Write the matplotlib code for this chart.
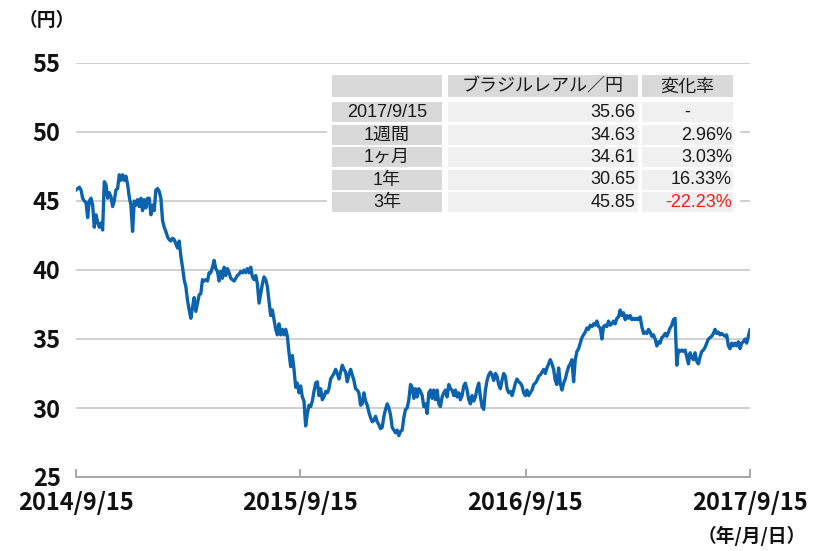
import numpy as np
import pandas as pd
import matplotlib
matplotlib.use("Agg")
import matplotlib.pyplot as plt
import matplotlib.dates as mdates
from matplotlib.patches import Rectangle

plt.rcParams['font.family'] = ['Noto Sans CJK JP', 'DejaVu Sans']

# ---------------- data ----------------
start_date = "2014-09-15"
end_date = "2017-09-15"

brl_jpy = [
    45.8, 45.9, 46.0, 45.8, 45.2, 45.0, 44.9, 43.8, 45.0, 45.2, 44.7, 43.1, 44.0, 43.5, 43.1, 43.4, 42.9,
    46.4, 46.2, 45.2, 45.6, 45.3, 44.6, 45.0, 45.8, 45.9, 46.9, 46.5, 46.9, 46.5, 46.8, 46.2, 45.3, 44.7,
    42.8, 45.0, 44.7, 45.1, 44.6, 45.2, 44.3, 45.1, 44.5, 45.2, 45.2, 44.0, 44.7, 44.3, 45.8, 45.9, 45.7,
    45.2, 43.6, 43.1, 42.8, 42.4, 42.2, 42.1, 42.3, 42.2, 41.9, 41.6, 42.1, 41.0, 40.2, 39.3, 38.8, 37.8,
    37.1, 36.5, 37.3, 38.0, 37.0, 37.6, 38.2, 38.3, 39.3, 39.2, 39.3, 39.2, 39.8, 39.8, 40.2, 40.7, 40.1,
    39.9, 39.2, 39.9, 39.4, 40.2, 39.6, 40.1, 39.8, 39.4, 39.3, 39.2, 39.4, 39.6, 39.7, 39.9, 39.8, 40.0,
    39.8, 40.1, 39.8, 40.2, 39.5, 39.3, 39.6, 39.0, 37.6, 38.3, 39.0, 39.5, 39.3, 38.8, 37.7, 36.7, 37.1,
    36.4, 35.7, 35.3, 36.1, 35.3, 35.7, 35.3, 35.7, 35.2, 34.0, 33.0, 33.8, 32.8, 31.5, 31.8, 31.1, 31.6,
    30.8, 30.5, 28.7, 29.6, 30.2, 30.1, 30.5, 31.2, 31.8, 31.9, 30.9, 31.4, 30.6, 30.8, 31.2, 31.1, 31.4,
    32.1, 32.3, 32.5, 32.8, 32.5, 32.1, 32.6, 33.1, 32.8, 32.6, 31.9, 32.4, 32.8, 32.4, 32.0, 31.4, 31.3,
    31.1, 30.2, 30.3, 31.1, 30.5, 30.2, 29.7, 29.3, 29.0, 29.1, 29.4, 29.0, 28.8, 28.5, 28.6, 29.4, 29.9,
    30.3, 30.0, 29.5, 28.6, 28.4, 28.2, 28.4, 28.0, 28.3, 28.4, 29.3, 29.9, 30.0, 30.6, 31.7, 31.5, 30.7,
    31.4, 30.8, 31.4, 31.2, 30.9, 30.1, 30.3, 29.6, 31.1, 31.3, 30.7, 31.3, 30.6, 31.3, 30.3, 30.1, 30.8,
    31.1, 31.3, 30.8, 31.7, 31.4, 31.3, 30.9, 31.3, 30.8, 31.1, 30.6, 30.9, 31.6, 31.8, 31.3, 30.6, 30.3,
    30.9, 30.5, 30.8, 31.4, 31.8, 30.8, 30.1, 29.9, 31.3, 32.0, 32.4, 32.6, 32.4, 32.0, 32.5, 32.3, 31.7,
    31.4, 32.0, 32.5, 32.3, 31.4, 31.1, 31.2, 30.9, 31.3, 31.8, 32.1, 31.9, 31.8, 31.6, 31.1, 30.9, 31.3,
    30.9, 31.1, 31.3, 31.7, 31.8, 32.0, 32.3, 32.4, 32.6, 32.8, 32.5, 32.9, 33.2, 33.5, 33.2, 32.8, 32.0,
    31.7, 32.9, 31.8, 31.3, 31.8, 32.1, 32.6, 33.0, 33.2, 33.5, 31.9, 33.5, 34.1, 34.3, 34.7, 35.1, 35.3,
    35.5, 35.8, 35.7, 36.0, 35.9, 36.1, 36.0, 36.3, 35.9, 35.8, 35.0, 35.9, 36.0, 35.9, 36.3, 36.0, 36.1,
    36.3, 36.1, 36.5, 36.6, 37.1, 36.7, 36.9, 36.4, 36.7, 36.5, 36.7, 36.4, 36.5, 36.4, 36.5, 36.4, 36.6,
    35.9, 35.4, 35.5, 35.4, 35.7, 35.5, 35.2, 35.3, 35.0, 34.5, 34.8, 34.7, 35.1, 35.2, 35.4, 35.2, 35.5,
    35.8, 36.0, 36.4, 36.5, 33.1, 34.2, 34.1, 34.2, 34.1, 34.2, 33.7, 33.2, 34.0, 33.7, 33.5, 34.0, 33.4,
    33.2, 33.7, 34.1, 34.2, 34.4, 34.7, 35.0, 35.1, 35.2, 35.4, 35.7, 35.4, 35.5, 35.3, 35.4, 35.3, 35.2,
    35.3, 34.5, 34.3, 34.7, 34.5, 34.7, 34.5, 34.8, 34.3, 34.7, 34.8, 35.0, 34.7, 35.2, 35.66,
]

y_ticks = [25, 30, 35, 40, 45, 50, 55]
x_tick_dates = ["2014-09-15", "2015-09-15", "2016-09-15", "2017-09-15"]
x_tick_labels = ["2014/9/15", "2015/9/15", "2016/9/15", "2017/9/15"]

table_header = ["", "ブラジルレアル／円", "変化率"]
table_periods = ["2017/9/15", "1週間", "1ヶ月", "1年", "3年"]
table_rates = ["35.66", "34.63", "34.61", "30.65", "45.85"]
table_changes = ["-", "2.96%", "3.03%", "16.33%", "-22.23%"]

# ---------------- figure ----------------
W, H = 830, 551
fig = plt.figure(figsize=(W / 100, H / 100), dpi=100)
ax_l, ax_r, ax_t, ax_b = 76, 750, 63, 477
ax = fig.add_axes([ax_l / W, 1 - ax_b / H, (ax_r - ax_l) / W, (ax_b - ax_t) / H])

dates = pd.date_range(start_date, end_date, periods=len(brl_jpy))
ax.plot(dates, brl_jpy, color="#0b63ae", lw=2.4, solid_joinstyle="round", zorder=3)

ax.set_xlim(pd.Timestamp(start_date), pd.Timestamp(end_date))
ax.set_ylim(25, 55)
ax.set_yticks(y_ticks)
ax.set_yticklabels([str(v) for v in y_ticks])
ax.set_xticks([pd.Timestamp(d) for d in x_tick_dates])
ax.set_xticklabels(x_tick_labels)

ax.grid(axis="y", color="#d0d0d0", lw=1.4, zorder=0)
ax.grid(axis="x", visible=False)
for s in ["top", "right", "left"]:
    ax.spines[s].set_visible(False)
ax.spines["bottom"].set_color("#9a9a9a")
ax.spines["bottom"].set_linewidth(1.2)
ax.tick_params(axis="y", length=0, pad=11, labelsize=17, colors="#111111")
ax.tick_params(axis="x", direction="in", length=6, width=1.2, color="#9a9a9a",
               pad=10, labelsize=17, labelcolor="#111111")
for lab in ax.get_xticklabels() + ax.get_yticklabels():
    lab.set_fontweight("bold")

# ---------------- overlay (texts + table) ----------------
ov = fig.add_axes([0, 0, 1, 1], zorder=5)
ov.set_xlim(0, W)
ov.set_ylim(H, 0)
ov.axis("off")
ov.patch.set_alpha(0)

ov.text(47, 20, "（円）", ha="center", va="center", fontsize=13.5, fontweight="bold", color="#111111")
ov.text(752, 536, "（年/月/日）", ha="center", va="center", fontsize=13.5, fontweight="bold", color="#111111")

# table background
ov.add_patch(Rectangle((327, 71), 413, 146, facecolor="white", edgecolor="none"))
cols = [(332, 442), (448, 638), (642, 733)]
header_y = (75, 97)
rows_y = [(102, 122), (124.5, 144.5), (147, 167), (169.5, 189.5), (192, 212)]
dark, light = "#d9d9d9", "#f0f0f0"
tfs = 13
tcol = "#1a1a1a"
tfam = ['Liberation Sans', 'Noto Sans CJK JP', 'DejaVu Sans']

for (x0, x1), txt in zip(cols, table_header):
    ov.add_patch(Rectangle((x0, header_y[0]), x1 - x0, header_y[1] - header_y[0], facecolor=dark, edgecolor="none"))
    if txt:
        ov.text((x0 + x1) / 2, (header_y[0] + header_y[1]) / 2 + 0.5, txt, ha="center", va="center",
                fontsize=tfs, color=tcol, family=['Noto Sans CJK JP', 'DejaVu Sans'])

for i, (y0, y1) in enumerate(rows_y):
    yc = (y0 + y1) / 2 + 0.5
    for j, (x0, x1) in enumerate(cols):
        ov.add_patch(Rectangle((x0, y0), x1 - x0, y1 - y0, facecolor=dark if j == 0 else light, edgecolor="none"))
    ov.text((cols[0][0] + cols[0][1]) / 2, yc, table_periods[i], ha="center", va="center", fontsize=tfs,
            color=tcol, family=tfam)
    ov.text(cols[1][1] - 3, yc, table_rates[i], ha="right", va="center", fontsize=tfs, color=tcol, family=tfam)
    chg = table_changes[i]
    color = "#ff1a1a" if chg.startswith("-") and len(chg) > 1 else tcol
    if chg == "-":
        ov.text((cols[2][0] + cols[2][1]) / 2, yc, chg, ha="center", va="center", fontsize=tfs, color=tcol,
                family=tfam)
    else:
        ov.text(cols[2][1] - 1, yc, chg, ha="right", va="center", fontsize=tfs, color=color, family=tfam)

fig.savefig("out.png", dpi=100)
